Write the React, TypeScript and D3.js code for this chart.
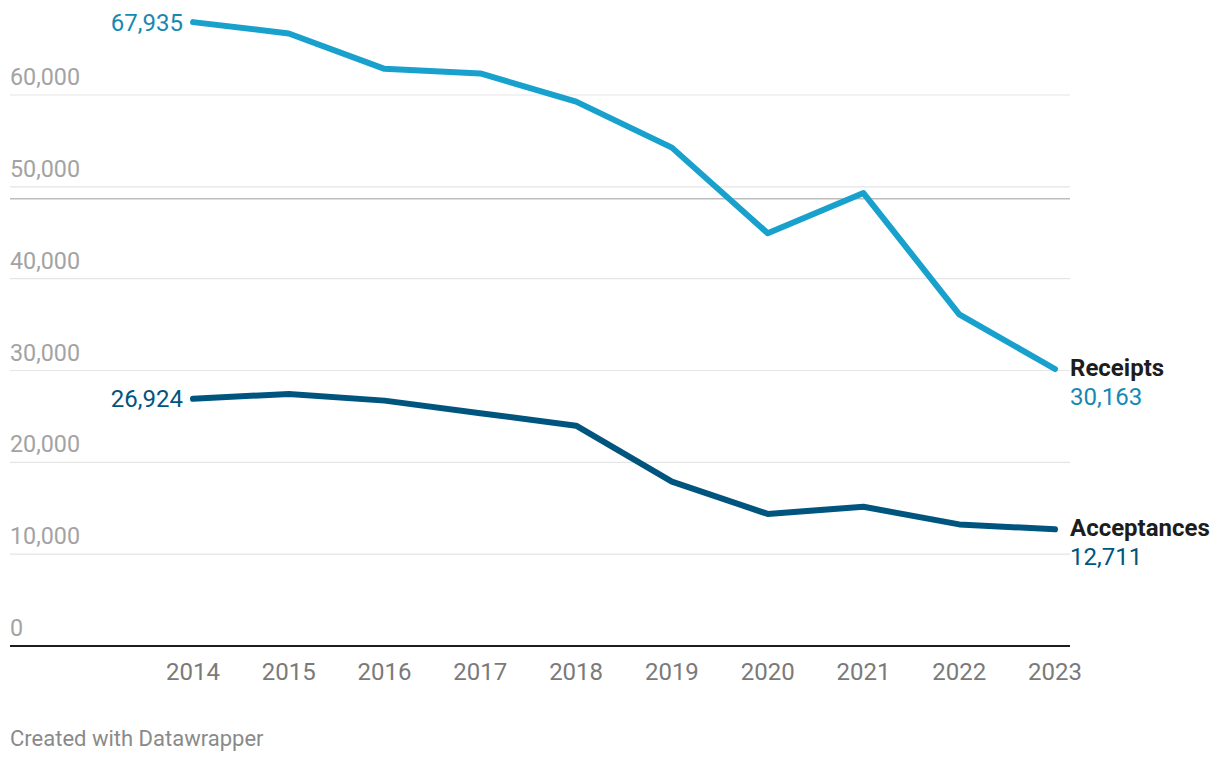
import React from "react";
import * as d3 from "d3";

const years = [2014, 2015, 2016, 2017, 2018, 2019, 2020, 2021, 2022, 2023];
const receipts = [67935, 66700, 62850, 62350, 59280, 54270, 44950, 49320, 36120, 30163];
const acceptances = [26924, 27450, 26720, 25350, 23990, 17890, 14380, 15160, 13240, 12711];
const yTicks = [0, 10000, 20000, 30000, 40000, 50000, 60000];
const referenceValue = 48700;
const seriesNames = ["Receipts", "Acceptances"];
const footerText = "Created with Datawrapper";

const W = 1220;
const H = 762;
const FONT = "Roboto, 'Noto Sans', sans-serif";

export default function App() {
  const x = d3.scaleLinear().domain([2014, 2023]).range([193, 1055]);
  const y = d3.scaleLinear().domain([0, 60000]).range([646, 95]);
  const fmt = d3.format(",");
  const line = d3
    .line<number>()
    .x((_, i) => x(years[i]))
    .y((d) => y(d));

  const series = [
    { name: seriesNames[0], values: receipts, color: "#18a1cd", textColor: "#1589b3" },
    { name: seriesNames[1], values: acceptances, color: "#00557e", textColor: "#00557e" },
  ];

  const gridLeft = 10;
  const gridRight = 1070;

  return (
    <svg
      width={W}
      height={H}
      style={{ position: "absolute", left: 0, top: 0, background: "#fff" }}
      fontFamily={FONT}
    >
      {yTicks.map((t) => (
        <g key={t}>
          {t !== 0 && (
            <line x1={gridLeft} x2={gridRight} y1={y(t)} y2={y(t)} stroke="#e5e5e5" strokeWidth={1.2} />
          )}
          <text x={gridLeft} y={y(t) - 10} fontSize={23.3} fill="#a3a3a3">
            {fmt(t)}
          </text>
        </g>
      ))}
      <line
        x1={gridLeft}
        x2={gridRight}
        y1={y(referenceValue)}
        y2={y(referenceValue)}
        stroke="#bdbdbd"
        strokeWidth={1.6}
      />
      <line x1={gridLeft} x2={gridRight} y1={y(0)} y2={y(0)} stroke="#1d1d1d" strokeWidth={2} />
      {years.map((yr) => (
        <text key={yr} x={x(yr)} y={680} fontSize={24} fill="#7a7a7a" textAnchor="middle">
          {yr}
        </text>
      ))}
      {series.map((s) => {
        const first = s.values[0];
        const last = s.values[s.values.length - 1];
        const lx = x(years[years.length - 1]) + 15;
        const ly = y(last);
        return (
          <g key={s.name}>
            <path
              d={line(s.values) || ""}
              fill="none"
              stroke={s.color}
              strokeWidth={6}
              strokeLinejoin="round"
              strokeLinecap="round"
            />
            <text
              x={x(years[0]) - 10}
              y={y(first)}
              dy="0.36em"
              fontSize={24}
              fill={s.textColor}
              textAnchor="end"
            >
              {fmt(first)}
            </text>
            <text x={lx} y={ly + 7} fontSize={24} fontWeight="bold" fill="#1d1d1d">
              {s.name}
            </text>
            <text x={lx} y={ly + 36} fontSize={24} fill={s.textColor}>
              {fmt(last)}
            </text>
          </g>
        );
      })}
      <text x={10} y={746} fontSize={22} fill="#8a8a8a">
        {footerText}
      </text>
    </svg>
  );
}
